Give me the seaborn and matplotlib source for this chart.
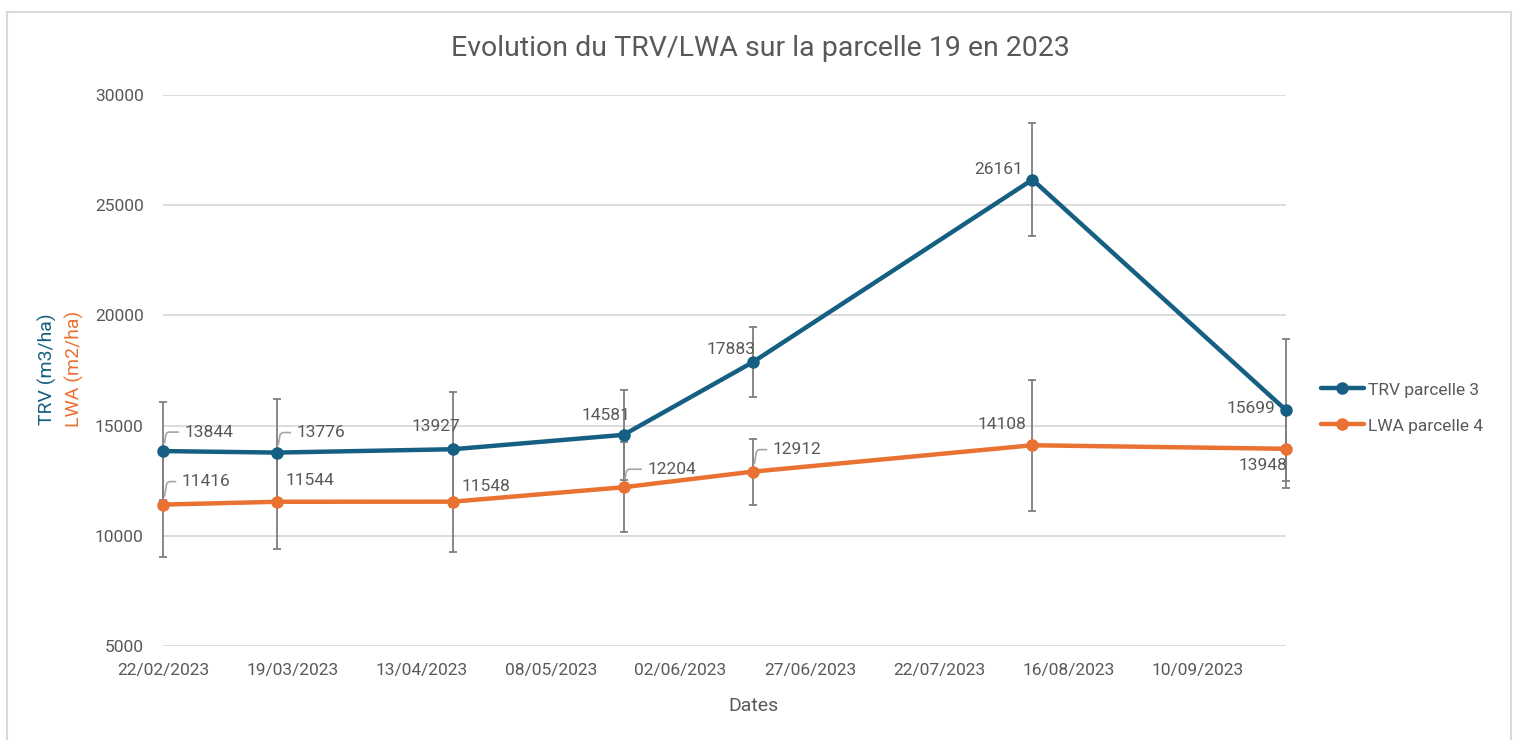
import pandas as pd
import matplotlib
matplotlib.use("Agg")
import matplotlib.pyplot as plt
import matplotlib.dates as mdates
from matplotlib.patches import Rectangle
import seaborn as sns

# Données
dates = ["2023-02-22", "2023-03-16", "2023-04-19", "2023-05-22",
         "2023-06-16", "2023-08-09", "2023-09-27"]
trv = [13844, 13776, 13927, 14581, 17883, 26161, 15699]
trv_err = [2210, 2420, 2600, 2030, 1600, 2550, 3220]
lwa = [11416, 11544, 11548, 12204, 12912, 14108, 13948]
lwa_err = [2380, 2130, 2280, 2030, 1500, 2970, 1790]

trv_name = "TRV parcelle 3"
lwa_name = "LWA parcelle 4"

# position des étiquettes (décalage en pixels) et lignes de rappel
trv_offsets = [(46, 19), (44, 20), (-17, 23), (-18, 19), (-22, 13), (-34, 10), (-35, 2)]
lwa_offsets = [(43, 23), (33, 21), (33, 15), (48, 18), (44, 22), (-30, 21), (-23, -17)]
trv_leader = [True, True, False, False, False, False, False]
lwa_leader = [True, False, False, True, True, False, False]

blue = "#156082"
orange = "#E97132"
grey_txt = "#595959"

df = pd.DataFrame({
    "Date": pd.to_datetime(dates * 2),
    "Valeur": trv + lwa,
    "Serie": [trv_name] * len(trv) + [lwa_name] * len(lwa),
})
x = pd.to_datetime(dates)

sns.set_theme(style="whitegrid")
plt.rcParams["font.family"] = ["Roboto", "DejaVu Sans"]

fig = plt.figure(figsize=(15.17, 7.4), dpi=100)
ax = fig.add_axes([163 / 1517, 1 - 646 / 740, (1286 - 163) / 1517, 551 / 740])

handles = []
for name, color in [(trv_name, blue), (lwa_name, orange)]:
    sub = df[df["Serie"] == name]
    sns.lineplot(data=sub, x="Date", y="Valeur", color=color, marker="o",
                 markersize=9, markeredgewidth=0, linewidth=3.2, label=name,
                 ax=ax, zorder=3)
    handles.append(ax.lines[-1])
for ln in handles:
    ln.set_clip_on(False)

ax.errorbar(x, trv, yerr=trv_err, fmt="none", ecolor="#7f7f7f", elinewidth=1.3,
            capsize=3, capthick=1.3, zorder=2, clip_on=False)
ax.errorbar(x, lwa, yerr=lwa_err, fmt="none", ecolor="#7f7f7f", elinewidth=1.3,
            capsize=3, capthick=1.3, zorder=2, clip_on=False)

# étiquettes de données
for vals, offs, leads in [(trv, trv_offsets, trv_leader), (lwa, lwa_offsets, lwa_leader)]:
    for xi, v, off, lead in zip(x, vals, offs, leads):
        props = None
        if lead:
            props = dict(arrowstyle="-", color="#a6a6a6", lw=1.2, shrinkA=2, shrinkB=6,
                         connectionstyle="angle,angleA=0,angleB=80,rad=3")
        ax.annotate(str(v), xy=(xi, v), xytext=off, textcoords="offset pixels",
                    ha="center", va="center", fontsize=12.5, color=grey_txt,
                    arrowprops=props, zorder=4)

ax.set_ylim(5000, 30000)
ax.set_yticks(range(5000, 30001, 5000))
ax.set_xlim(x[0], x[-1])
ax.set_xticks(pd.date_range("2023-02-22", periods=9, freq="25D"))
ax.xaxis.set_major_formatter(mdates.DateFormatter("%d/%m/%Y"))
ax.grid(axis="y", color="#d9d9d9", linewidth=1.3)
ax.grid(axis="x", visible=False)
for s in ax.spines.values():
    s.set_visible(False)
ax.tick_params(axis="both", colors=grey_txt, labelsize=12.5, length=0)
ax.tick_params(axis="y", pad=14)
ax.tick_params(axis="x", pad=12)
ax.set_xlabel("")
ax.set_ylabel("")

leg = ax.legend(handles=handles, labels=[trv_name, lwa_name], loc="center left",
                bbox_to_anchor=(1.017, 0.432), frameon=False, fontsize=12.5,
                handlelength=2.5, handletextpad=0.25, labelspacing=1.2)
for t in leg.get_texts():
    t.set_color(grey_txt)

fig.text(760 / 1517, 1 - 48 / 740, "Evolution du TRV/LWA sur la parcelle 19 en 2023",
         ha="center", va="center", fontsize=20.5, color=grey_txt)
fig.text(753 / 1517, 1 - 706 / 740, "Dates", ha="center", va="center",
         fontsize=14, color=grey_txt)
fig.text(47 / 1517, 1 - 369 / 740, "TRV (m3/ha)", ha="center", va="center",
         rotation=90, fontsize=14, color=blue)
fig.text(74 / 1517, 1 - 369 / 740, "LWA (m2/ha)", ha="center", va="center",
         rotation=90, fontsize=14, color=orange)

fig.patches.append(Rectangle((7 / 1517, -0.05), 1504 / 1517, 1.05 - 12 / 740,
                             transform=fig.transFigure, fill=False,
                             edgecolor="#d9d9d9", linewidth=1.5))

fig.savefig("out.png", dpi=100)
